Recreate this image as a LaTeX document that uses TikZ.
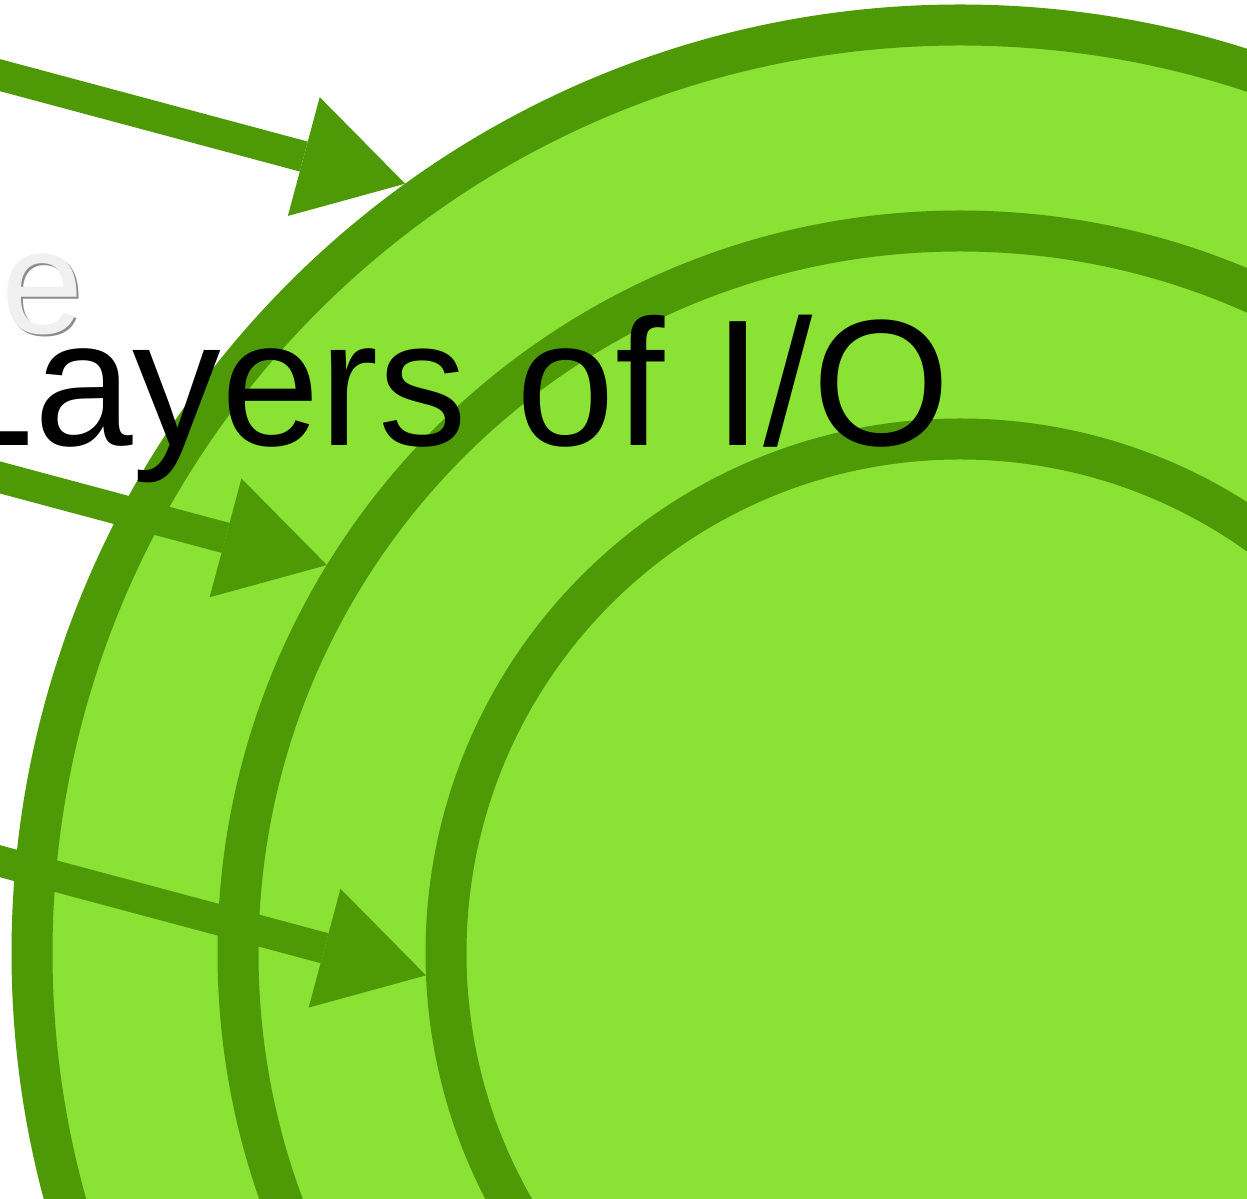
\documentclass[tikz,border=0pt]{standalone}
\usepackage{fontspec}
\setmainfont{Liberation Sans}
\usetikzlibrary{calc,arrows.meta}
\usepackage{xcolor}
\definecolor{ringdark}{HTML}{4E9A06}
\definecolor{ringlight}{HTML}{8AE234}

\begin{document}
\begin{tikzpicture}[
		ring/.style={line width=4.1mm, draw=ringdark, fill=ringlight},
		feed/.style={line width=3.1mm, draw=ringdark, ringdark, -{Triangle[length=10.5mm, width=12.3mm, line width=0pt]}},
		bigtext/.style={anchor=base east, inner sep=0pt, font=\fontsize{51.2}{60}\selectfont},
		smalltext/.style={anchor=base east, inner sep=0pt, font=\fontsize{42}{50}\selectfont}]
			\def\ringa{9.28};
			\def\ringb{7.22};
			\def\ringc{5.14};
			\useasboundingbox (0,0) rectangle (12.47,-11.99);
			\clip (0,0) rectangle (12.47,-11.99);
			% the three layers, outer one first
			\coordinate (c) at (9.60,-9.53);
			\foreach \r in {\ringa,\ringb,\ringc}
				\draw[ring] (c) circle (\r);
			% one arrow onto each layer
			\foreach \a/\r [count=\i] in {125.8/\ringa, 148.5/\ringb, 182.4/\ringc}{
				\coordinate (tip\i) at ($(c)+(\a:\r+0.205)$);
				\coordinate (tail\i) at ($(tip\i)+(165:6)$);
				\draw[feed] (tail\i) -- (tip\i);
			}
			\node[smalltext, text=black!45] (eshade) at (0.86,-3.36) {e};
			\node[smalltext, text=gray!12] (eletter) at (0.845,-3.34) {e};
			\node[bigtext, xscale=0.985] (title) at (9.51,-4.46) {Layers of I/O};
\end{tikzpicture}
\end{document}
